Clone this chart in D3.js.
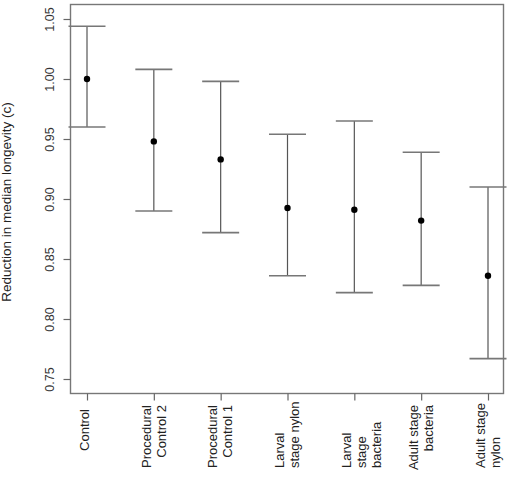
<!DOCTYPE html>
<html>
<head>
<meta charset="utf-8">
<script src="https://cdn.jsdelivr.net/npm/d3@7"></script>
<style>
  html, body { margin: 0; padding: 0; background: #fff; }
  svg { display: block; }
  text { font-family: "Liberation Sans", Arial, sans-serif; fill: #222; }
</style>
</head>
<body>
<svg id="chart" width="510" height="479"></svg>
<script>
// ---- data ----
const categories = ["Control", "Procedural Control 2", "Procedural Control 1",
  "Larval stage nylon", "Larval stage bacteria", "Adult stage bacteria", "Adult stage nylon"];
const labelLines = [
  ["Control"],
  ["Procedural", "Control 2"],
  ["Procedural", "Control 1"],
  ["Larval", "stage nylon"],
  ["Larval", "stage", "bacteria"],
  ["Adult stage", "bacteria"],
  ["Adult stage", "nylon"]
];
const labelJustify = ["top", "top", "top", "bottom", "bottom", "top", "bottom"];
const means = [1.000, 0.948, 0.933, 0.8925, 0.891, 0.882, 0.836];
const upper = [1.044, 1.008, 0.998, 0.954, 0.965, 0.939, 0.910];
const lower = [0.960, 0.890, 0.872, 0.836, 0.822, 0.828, 0.767];
const yTicks = [0.75, 0.80, 0.85, 0.90, 0.95, 1.00, 1.05];
const yTitle = "Reduction in median longevity (c)";

// ---- layout ----
const svg = d3.select("#chart");
const box = {left: 70.5, top: 4.5, right: 503.5, bottom: 393.5};
const x = d3.scalePoint().domain(categories).range([87, 488]);
const y = d3.scaleLinear().domain([0.75, 1.05]).range([379, 19]);
const fs = 13;

// error bars
const g = svg.append("g");
categories.forEach((c, i) => {
  const cx = x(c);
  g.append("line").attr("x1", cx).attr("x2", cx).attr("y1", y(upper[i])).attr("y2", y(lower[i]))
    .attr("stroke", "#555").attr("stroke-width", 1.2);
  [upper[i], lower[i]].forEach(v => {
    g.append("line").attr("x1", cx - 18.5).attr("x2", cx + 18.5).attr("y1", y(v)).attr("y2", y(v))
      .attr("stroke", "#777").attr("stroke-width", 1.6);
  });
  g.append("circle").attr("cx", cx).attr("cy", y(means[i])).attr("r", 3.2).attr("fill", "#000");
});

// box
svg.append("rect").attr("x", box.left).attr("y", box.top)
  .attr("width", box.right - box.left).attr("height", box.bottom - box.top)
  .attr("fill", "none").attr("stroke", "#777").attr("stroke-width", 1.4);

// y axis
const yAxis = d3.axisLeft(y).tickValues(yTicks).tickSize(7).tickFormat(d3.format(".2f"));
const ya = svg.append("g").attr("transform", `translate(${box.left},0)`).call(yAxis);
ya.select(".domain").remove();
ya.selectAll(".tick line").attr("stroke", "#666").attr("stroke-width", 1.2);
ya.selectAll(".tick text").remove();
ya.selectAll(".tick").append("text")
  .attr("transform", "translate(-17,0) rotate(-90)")
  .attr("text-anchor", "middle")
  .attr("x", 0).attr("y", 0)
  .style("font-size", "12.5px").style("fill", "#333")
  .text(d => d3.format(".2f")(d));

// x axis
const xAxis = d3.axisBottom(x).tickSize(7).tickFormat("");
const xa = svg.append("g").attr("transform", `translate(0,${box.bottom})`).call(xAxis);
xa.select(".domain").remove();
xa.selectAll(".tick line").attr("stroke", "#666").attr("stroke-width", 1.2);

const lineGap = 15;
categories.forEach((c, i) => {
  const lines = labelLines[i];
  const first = lines.length === 1 ? -2.5 : -8;
  lines.forEach((ln, j) => {
    const cx = x(c) + first + j * lineGap;
    const top = labelJustify[i] === "top";
    const yy = top ? (lines.length === 1 ? 409 : 405) : 468;
    svg.append("text")
      .attr("transform", `translate(${cx},${yy}) rotate(-90)`)
      .attr("text-anchor", top ? "end" : "start")
      .attr("dy", "0.36em")
      .style("font-size", fs + "px")
      .text(ln);
  });
});

// y title
svg.append("text")
  .attr("transform", `translate(6.5,${(box.top + box.bottom) / 2 + 3}) rotate(-90)`)
  .attr("text-anchor", "middle")
  .attr("dy", "0.36em")
  .style("font-size", "13.5px")
  .text(yTitle);
</script>
</body>
</html>
